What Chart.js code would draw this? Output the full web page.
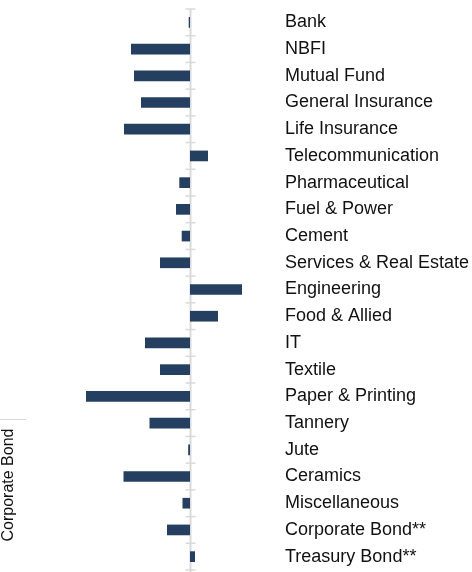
<!DOCTYPE html>
<html>
<head>
<meta charset="utf-8">
<script src="https://cdn.jsdelivr.net/npm/chart.js@4"></script>
<style>
  html, body { margin: 0; padding: 0; background: #fff; }
  #wrap { width: 472px; height: 572px; }
</style>
</head>
<body>
<div id="wrap"><canvas id="myChart"></canvas></div>
<script>
// sectors, top to bottom
var sectors = ['Bank', 'NBFI', 'Mutual Fund', 'General Insurance', 'Life Insurance',
  'Telecommunication', 'Pharmaceutical', 'Fuel & Power', 'Cement', 'Services & Real Estate',
  'Engineering', 'Food & Allied', 'IT', 'Textile', 'Paper & Printing', 'Tannery', 'Jute',
  'Ceramics', 'Miscellaneous', 'Corporate Bond**', 'Treasury Bond**']
// change per sector
var change = [-1.3, -59, -56, -49, -66, 18, -10.7, -14, -8.3, -30,
  52, 28, -45, -30, -104, -40.5, -1.8, -66.5, -7.5, -23, 5]
var xMin = -170
var xMax = 85
var sideLabel = 'Corporate Bond'

const axisDeco = {
  id: 'axisDeco',
  beforeDatasetsDraw (chart) {
    const c = chart.ctx
    const x = chart.scales.x
    const zx = Math.round(x.getPixelForValue(0)) + 0.5
    const top = chart.chartArea.top
    const bottom = chart.chartArea.bottom
    c.save()
    c.strokeStyle = '#d9d9d9'
    c.lineWidth = 2
    c.beginPath()
    c.moveTo(zx, top)
    c.lineTo(zx, 572)
    c.stroke()
    const step = (bottom - top) / sectors.length
    c.lineWidth = 1.5
    for (let i = 0; i <= sectors.length; i++) {
      const yy = top + i * step
      c.beginPath()
      c.moveTo(zx - 5, yy)
      c.lineTo(zx + 5, yy)
      c.stroke()
    }
    // facet label at the left
    c.lineWidth = 1
    c.beginPath()
    c.moveTo(0, 419.5)
    c.lineTo(26, 419.5)
    c.stroke()
    c.translate(9, 485)
    c.rotate(-Math.PI / 2)
    c.fillStyle = '#111'
    c.font = '16px "Liberation Sans", Arial, sans-serif'
    c.textAlign = 'center'
    c.textBaseline = 'middle'
    c.fillText(sideLabel, 0, 0)
    c.restore()
  }
}

const ctx = document.getElementById('myChart').getContext('2d')
const myChart = new Chart(ctx, {
  type: 'bar',
  data: {
    labels: sectors,
    datasets: [{
      data: change,
      backgroundColor: '#253f61',
      borderWidth: 0,
      barPercentage: 0.4,
      categoryPercentage: 1
    }]
  },
  options: {
    indexAxis: 'y',
    responsive: true,
    maintainAspectRatio: false,
    animation: false,
    layout: { padding: { left: 20, top: 9, bottom: 2, right: 0 } },
    plugins: {
      legend: { display: false },
      tooltip: { enabled: false }
    },
    scales: {
      x: {
        min: xMin,
        max: xMax,
        display: false
      },
      y: {
        position: 'right',
        border: { display: false },
        grid: { display: false, drawTicks: false },
        ticks: {
          padding: 10,
          color: '#111',
          font: { family: '"Liberation Sans", Arial, sans-serif', size: 18 }
        },
        afterFit (scale) {
          scale.width = 197
          scale.paddingTop = 0
          scale.paddingBottom = 0
        }
      }
    }
  },
  plugins: [axisDeco]
})
</script>
</body>
</html>
